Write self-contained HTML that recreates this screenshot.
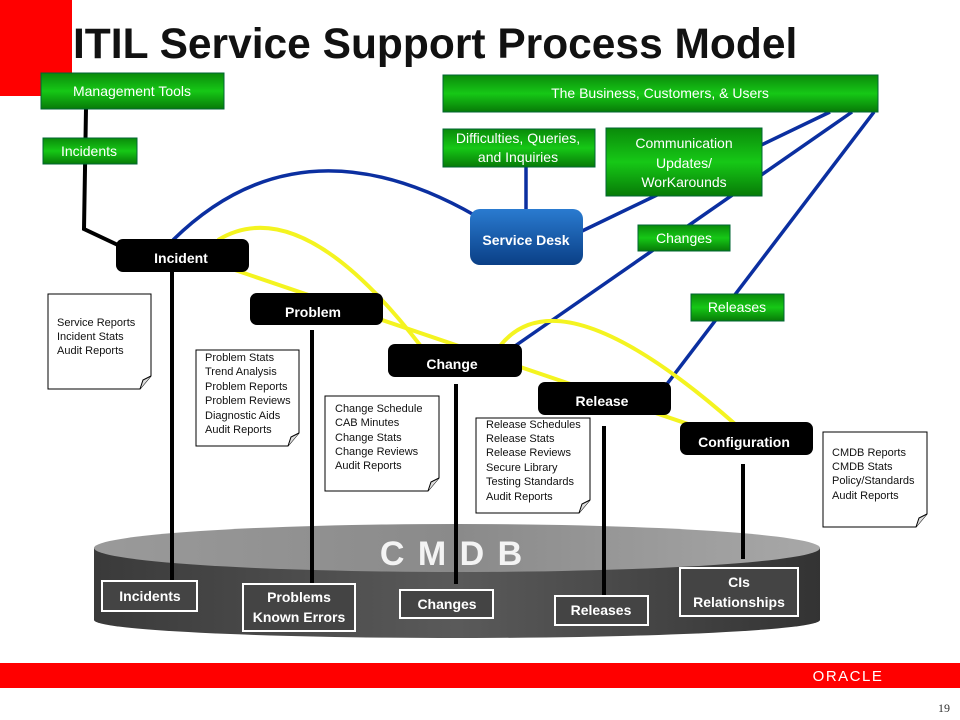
<!DOCTYPE html>
<html><head><meta charset="utf-8"><style>
body{margin:0;background:#fff}
svg{display:block;font-family:"Liberation Sans",Arial,sans-serif}
</style></head><body>
<svg width="960" height="720" viewBox="0 0 960 720">
<defs>
<linearGradient id="g" x1="0" y1="0" x2="0" y2="1"><stop offset="0" stop-color="#0a8a0a"/><stop offset="0.5" stop-color="#16c816"/><stop offset="1" stop-color="#077a07"/></linearGradient>
<linearGradient id="sd" x1="0" y1="0" x2="0" y2="1"><stop offset="0" stop-color="#2a7bd0"/><stop offset="1" stop-color="#0a3f86"/></linearGradient>
<linearGradient id="cyl" x1="0" y1="0" x2="1" y2="0"><stop offset="0" stop-color="#3a3a3a"/><stop offset="0.5" stop-color="#5a5a5a"/><stop offset="1" stop-color="#333"/></linearGradient>
<linearGradient id="top" x1="0" y1="0" x2="1" y2="0"><stop offset="0" stop-color="#9a9a9a"/><stop offset="0.5" stop-color="#8a8a8a"/><stop offset="1" stop-color="#a8a8a8"/></linearGradient>
</defs>
<rect x="0" y="0" width="72" height="96" fill="#f00"/>
<text x="73" y="58" font-size="42.5" font-weight="bold" fill="#111">ITIL Service Support Process Model</text>

<!-- CMDB cylinder -->
<path d="M94,548 L94,620 A363,18 0 0 0 820,620 L820,548 Z" fill="url(#cyl)"/>
<ellipse cx="457" cy="548" rx="363" ry="24" fill="url(#top)"/>
<text x="452" y="565" font-size="34" font-weight="bold" fill="#f4f4f4" text-anchor="middle" letter-spacing="2">C M D B</text>

<!-- blue lines -->
<g stroke="#0b2fa0" stroke-width="3.5" fill="none">
<path d="M173,240 Q300,115 476,216"/>
<line x1="526" y1="167" x2="526" y2="210"/>
<line x1="580" y1="232" x2="830" y2="112"/>
<line x1="515" y1="346" x2="852" y2="112"/>
<line x1="667" y1="384" x2="874" y2="112"/>
</g>
<!-- yellow lines -->
<g stroke="#f4f420" stroke-width="4" fill="none">
<path d="M218,240 Q300,190 420,345"/>
<line x1="235" y1="270" x2="735" y2="440"/>
<path d="M500,346 Q560,270 735,424"/>
</g>
<!-- black lines -->
<g stroke="#000" stroke-width="4" fill="none">
<path d="M86,109 L84,229 L120,246"/>
<line x1="172" y1="272" x2="172" y2="582"/>
<line x1="312" y1="330" x2="312" y2="584"/>
<line x1="456" y1="384" x2="456" y2="584"/>
<line x1="604" y1="426" x2="604" y2="595"/>
<line x1="743" y1="464" x2="743" y2="559"/>
</g>

<!-- green boxes -->
<g stroke="#063" stroke-width="1" font-size="14" fill="#fff" text-anchor="middle">
<rect x="41" y="73" width="183" height="36" fill="url(#g)"/><text x="132" y="96" fill="#fff" stroke="none">Management Tools</text>
<rect x="43" y="138" width="94" height="26" fill="url(#g)"/><text x="89" y="156" fill="#fff" stroke="none">Incidents</text>
<rect x="443" y="75" width="435" height="37" fill="url(#g)"/><text x="660" y="98" fill="#fff" stroke="none">The Business, Customers, &amp; Users</text>
<rect x="443" y="129" width="152" height="38" fill="url(#g)"/><text x="518" y="143" fill="#fff" stroke="none">Difficulties, Queries,</text><text x="518" y="162" fill="#fff" stroke="none">and Inquiries</text>
<rect x="606" y="128" width="156" height="68" fill="url(#g)"/><text x="684" y="148" fill="#fff" stroke="none">Communication</text><text x="684" y="168" fill="#fff" stroke="none">Updates/</text><text x="684" y="187" fill="#fff" stroke="none">WorKarounds</text>
<rect x="638" y="225" width="92" height="26" fill="url(#g)"/><text x="684" y="243" fill="#fff" stroke="none">Changes</text>
<rect x="691" y="294" width="93" height="27" fill="url(#g)"/><text x="737" y="312" fill="#fff" stroke="none">Releases</text>
</g>
<rect x="470" y="209" width="113" height="56" rx="10" fill="url(#sd)"/>
<text x="526" y="245" font-size="14" font-weight="bold" fill="#fff" text-anchor="middle">Service Desk</text>

<!-- black process boxes -->
<g font-size="14" font-weight="bold" fill="#fff" text-anchor="middle">
<rect x="116" y="239" width="133" height="33" rx="7" fill="#000"/><text x="181" y="263" fill="#fff">Incident</text>
<rect x="250" y="293" width="133" height="32" rx="7" fill="#000"/><text x="313" y="317" fill="#fff">Problem</text>
<rect x="388" y="344" width="134" height="33" rx="7" fill="#000"/><text x="452" y="369" fill="#fff">Change</text>
<rect x="538" y="382" width="133" height="33" rx="7" fill="#000"/><text x="602" y="406" fill="#fff">Release</text>
<rect x="680" y="422" width="133" height="33" rx="7" fill="#000"/><text x="744" y="447" fill="#fff">Configuration</text>
</g>

<!-- docs -->
<g stroke="#000" stroke-width="1" fill="#fff" font-size="11">
<path d="M48,294 H151 V376 L140,389 H48 Z"/><path d="M140,389 L143,380 L151,376" fill="#ddd"/>
<path d="M196,350 H299 V433 L288,446 H196 Z"/><path d="M288,446 L291,437 L299,433" fill="#ddd"/>
<path d="M325,396 H439 V478 L428,491 H325 Z"/><path d="M428,491 L431,482 L439,478" fill="#ddd"/>
<path d="M476,418 H590 V500 L579,513 H476 Z"/><path d="M579,513 L582,504 L590,500" fill="#ddd"/>
<path d="M823,432 H927 V514 L916,527 H823 Z"/><path d="M916,527 L919,518 L927,514" fill="#ddd"/>
</g>
<g font-size="11" fill="#111">
<text x="57" y="326">Service Reports</text><text x="57" y="340">Incident Stats</text><text x="57" y="354">Audit Reports</text>
<text x="205" y="361">Problem Stats</text><text x="205" y="375">Trend Analysis</text><text x="205" y="390">Problem Reports</text><text x="205" y="404">Problem Reviews</text><text x="205" y="419">Diagnostic Aids</text><text x="205" y="433">Audit Reports</text>
<text x="335" y="412">Change Schedule</text><text x="335" y="426">CAB Minutes</text><text x="335" y="441">Change Stats</text><text x="335" y="455">Change Reviews</text><text x="335" y="469">Audit Reports</text>
<text x="486" y="428">Release Schedules</text><text x="486" y="442">Release Stats</text><text x="486" y="456">Release Reviews</text><text x="486" y="471">Secure Library</text><text x="486" y="485">Testing Standards</text><text x="486" y="500">Audit Reports</text>
<text x="832" y="456">CMDB Reports</text><text x="832" y="470">CMDB Stats</text><text x="832" y="484">Policy/Standards</text><text x="832" y="499">Audit Reports</text>
</g>

<!-- cmdb labels -->
<g stroke="#fff" stroke-width="2" fill="#444">
<rect x="102" y="581" width="95" height="30"/>
<rect x="243" y="584" width="112" height="47"/>
<rect x="400" y="590" width="93" height="28"/>
<rect x="555" y="596" width="93" height="29"/>
<rect x="680" y="568" width="118" height="48"/>
</g>
<g font-size="14" font-weight="bold" fill="#fff" text-anchor="middle">
<text x="150" y="601">Incidents</text>
<text x="299" y="602">Problems</text><text x="299" y="622">Known Errors</text>
<text x="447" y="609">Changes</text>
<text x="601" y="615">Releases</text>
<text x="739" y="587">CIs</text><text x="739" y="607">Relationships</text>
</g>

<rect x="0" y="663" width="960" height="25" fill="#f00"/>
<text x="848" y="681" font-size="15" fill="#fff" text-anchor="middle" letter-spacing="1.5">ORACLE</text>
<text x="944" y="712" font-size="12" fill="#333" text-anchor="middle" font-family="Liberation Serif,serif">19</text>
</svg>
</body></html>
